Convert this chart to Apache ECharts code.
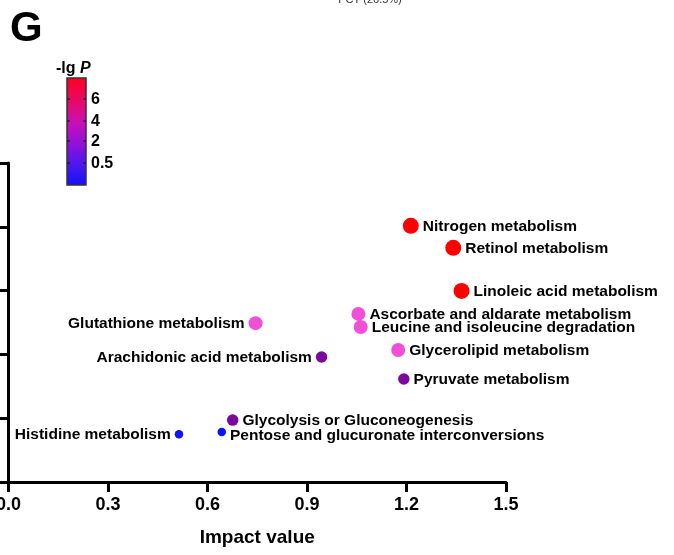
<!DOCTYPE html>
<html><head><meta charset="utf-8">
<script src="https://cdn.jsdelivr.net/npm/echarts@6/dist/echarts.min.js"></script>
<style>html,body{margin:0;padding:0;background:#fff}#c{width:674px;height:555px}</style>
</head><body><div id="c"></div>
<script>
// ---- data ----
const pathways = [
  'Nitrogen metabolism',
  'Retinol metabolism',
  'Linoleic acid metabolism',
  'Ascorbate and aldarate metabolism',
  'Leucine and isoleucine degradation',
  'Glutathione metabolism',
  'Glycerolipid metabolism',
  'Arachidonic acid metabolism',
  'Pyruvate metabolism',
  'Glycolysis or Gluconeogenesis',
  'Histidine metabolism',
  'Pentose and glucuronate interconversions'
];
const impactValue = [1.213, 1.341, 1.366, 1.055, 1.062, 0.745, 1.175, 0.944, 1.192, 0.676, 0.514, 0.643];
const negLgP      = [8.03, 7.34, 5.99, 5.27, 4.86, 4.98, 4.14, 3.92, 3.23, 1.94, 1.50, 1.57];
const xTickValues = [0.0, 0.3, 0.6, 0.9, 1.2, 1.5];
const colorbarTicks = ['6', '4', '2', '0.5'];

// ---- chart ----
const FONT = '"Liberation Sans", Arial, sans-serif';
const leftLabeled = new Set(['Glutathione metabolism', 'Arachidonic acid metabolism', 'Histidine metabolism']);
const loweredLabel = new Set(['Pentose and glucuronate interconversions']);

const data = pathways.map((name, i) => ({
  name: name,
  value: [impactValue[i], negLgP[i]],
  label: {
    position: leftLabeled.has(name) ? 'left' : 'right',
    offset: loweredLabel.has(name) ? [0, 4] : [0, 1]
  }
}));

function sizeOf(v) {
  if (v >= 5.8) return 16;
  if (v >= 4.1) return 14;
  if (v >= 1.8) return 11.5;
  return 8.5;
}

// colour bar legend (graphic)
const cbX = 67, cbY = 78, cbW = 19, cbH = 107;
const cbTickY = [99, 121, 141, 163];
const graphics = [
  { type: 'text', left: 10, top: 8, style: { text: 'G', font: 'bold 42px ' + FONT, fill: '#000' } },
  { type: 'text', x: 370, y: -6, style: { text: 'PCT (26.5%)', font: '11px ' + FONT, fill: '#333', textAlign: 'center' } },
  { type: 'rect', shape: { x: cbX, y: cbY, width: cbW, height: cbH },
    style: { fill: new echarts.graphic.LinearGradient(0, 0, 0, 1, [
      { offset: 0, color: '#ff0022' },
      { offset: 0.22, color: '#e80868' },
      { offset: 0.42, color: '#c810b8' },
      { offset: 0.62, color: '#9010dc' },
      { offset: 0.82, color: '#4818f0' },
      { offset: 1, color: '#1010ff' }
    ]), stroke: '#333', lineWidth: 1.5 } },
  { type: 'text', x: 56, y: 61, style: { rich: {
      a: { font: 'bold 16px ' + FONT, fill: '#000' },
      b: { font: 'italic bold 16px ' + FONT, fill: '#000' } },
      text: '{a|-lg }{b|P}' } }
];
colorbarTicks.forEach((t, i) => {
  const y = cbTickY[i];
  graphics.push({ type: 'line', shape: { x1: cbX, y1: y, x2: cbX + 3, y2: y }, style: { stroke: '#222', lineWidth: 1.5 } });
  graphics.push({ type: 'line', shape: { x1: cbX + cbW - 3, y1: y, x2: cbX + cbW, y2: y }, style: { stroke: '#222', lineWidth: 1.5 } });
  graphics.push({ type: 'text', x: cbX + cbW + 5, y: y + 1, style: { text: t, font: 'bold 16px ' + FONT, fill: '#000', textVerticalAlign: 'middle' } });
});

const chart = echarts.init(document.getElementById('c'), null, { renderer: 'canvas' });
chart.setOption({
  animation: false,
  backgroundColor: '#fff',
  textStyle: { fontFamily: FONT },
  grid: { left: 8.5, right: 168, top: 163, bottom: 73, containLabel: false, outerBoundsMode: 'none' },
  xAxis: {
    type: 'value', min: 0, max: 1.5, interval: 0.3,
    name: 'Impact value', nameLocation: 'middle', nameGap: 46,
    nameTextStyle: { fontSize: 19, fontWeight: 'bold', color: '#000', fontFamily: FONT },
    axisLine: { show: true, lineStyle: { color: '#000', width: 3 } },
    axisTick: { show: true, length: 10, lineStyle: { color: '#000', width: 3 }, customValues: xTickValues },
    axisLabel: { margin: 14, fontSize: 18, fontWeight: 'bold', color: '#000', fontFamily: FONT,
      customValues: xTickValues, formatter: v => v.toFixed(1) },
    splitLine: { show: false }
  },
  yAxis: {
    type: 'value', min: 0, max: 10, interval: 2,
    axisLine: { show: true, lineStyle: { color: '#000', width: 3 } },
    axisTick: { show: true, length: 10, lineStyle: { color: '#000', width: 3 } },
    axisLabel: { show: false },
    splitLine: { show: false }
  },
  visualMap: {
    type: 'piecewise', show: false, dimension: 1, seriesIndex: 0,
    pieces: [
      { min: 5.8, color: '#ff0000' },
      { min: 4.1, max: 5.8, color: '#f050d8' },
      { min: 1.8, max: 4.1, color: '#7a0a9c' },
      { max: 1.8, color: '#0a14ff' }
    ]
  },
  series: [{
    type: 'scatter',
    data: data,
    symbolSize: v => sizeOf(v[1]),
    label: {
      show: true, formatter: p => p.name, distance: 4,
      fontSize: 15.5, fontWeight: 'bold', color: '#000', fontFamily: FONT
    },
    itemStyle: { opacity: 1 }
  }],
  graphic: graphics
});
</script>
</body></html>
